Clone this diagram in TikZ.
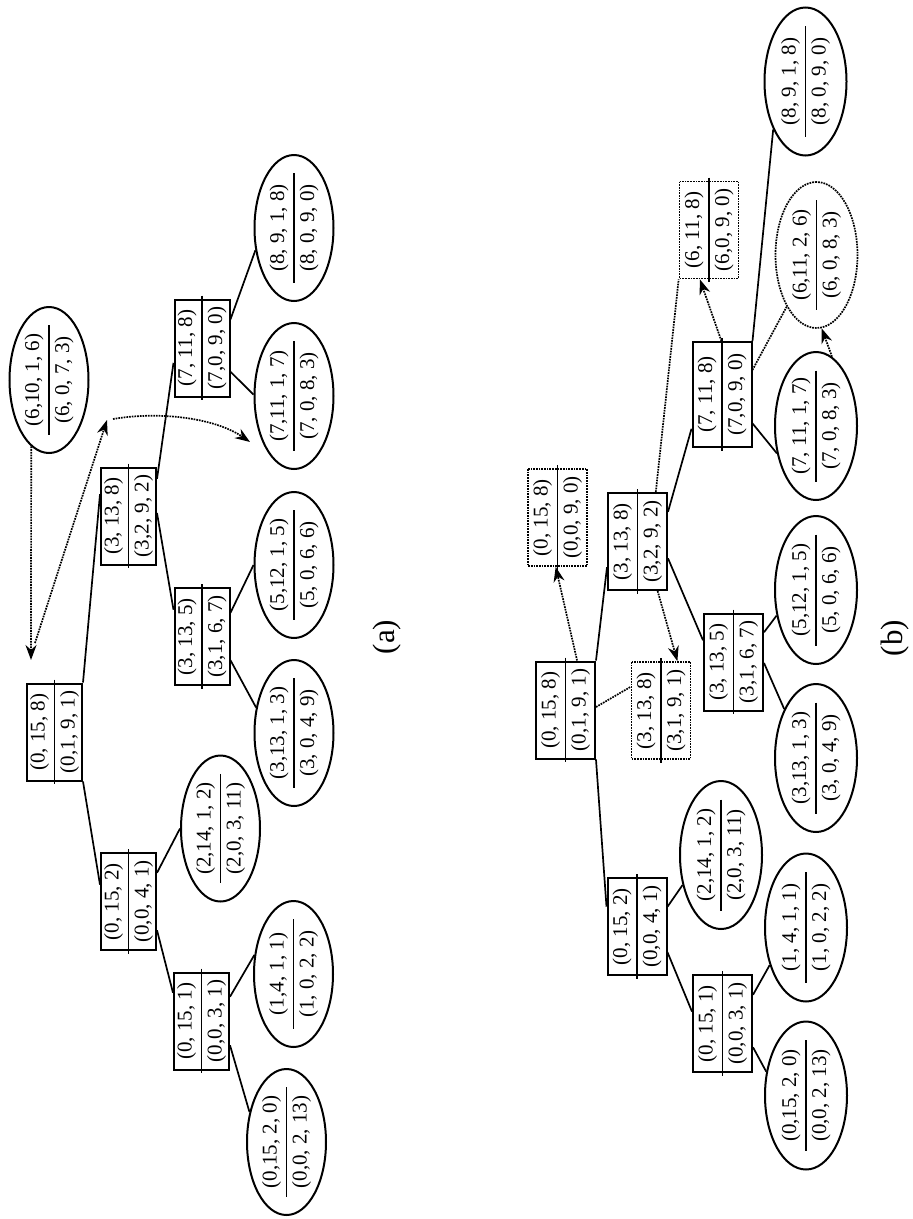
\documentclass[tikz,border=0pt]{standalone}
\usepackage{fontspec}
\setmainfont{Liberation Serif}
\usetikzlibrary{calc,arrows.meta,shapes.geometric}
\newcommand{\mydivider}[1]{\draw[divline] ($(#1.east)!-0.03!(#1.west)$) -- ($(#1.west)!-0.03!(#1.east)$);}
\newcommand{\myfracline}[1]{\draw[divline] ($(#1.east)!0.13!(#1.west)$) -- ($(#1.west)!0.13!(#1.east)$);}
\begin{document}
\begin{tikzpicture}[x=1pt,y=-1pt,
  every node/.style={rotate=90, font=\fontsize{21}{30}\selectfont, align=center, inner sep=0pt},
  boxA/.style={draw, line width=2pt, minimum width=97pt, minimum height=55pt},
  boxB/.style={draw, line width=2pt, minimum width=97pt, minimum height=59pt},
  dbox/.style={draw, line width=1.7pt, densely dotted, minimum width=97pt, minimum height=59pt},
  ellA/.style={ellipse, draw, line width=2pt, minimum width=146pt, minimum height=79pt},
  ellB/.style={ellipse, draw, line width=2pt, minimum width=148pt, minimum height=82pt},
  dell/.style={ellipse, draw, densely dotted, line width=1.7pt, minimum width=146pt, minimum height=82pt},
  divline/.style={line width=1.8pt},
  treeline/.style={line width=1.7pt},
  dline/.style={densely dotted, line width=1.7pt},
  darrow/.style={dline, -{Stealth[length=15pt,width=11pt]}},
  lab/.style={font=\fontsize{31}{33}\selectfont}
]
\fill[white] (0,0) rectangle (913,1219);
\useasboundingbox (0,0) rectangle (913,1219);

% ---------- panel (a) ----------
\node[boxA] (ra)     at (54.5,732)  {(0, 15, 8)\\(0,1, 9, 1)};
\node[boxA] (c152a)  at (128.5,901.5) {(0, 15, 2)\\(0,0, 4, 1)};
\node[boxA] (c151a)  at (201.5,1021) {(0, 15, 1)\\(0,0, 3, 1)};
\node[boxA] (c138a)  at (128.5,516) {(3, 13, 8)\\(3,2, 9, 2)};
\node[boxA] (c135a)  at (202,636.5) {(3, 13, 5)\\(3,1, 6, 7)};
\node[boxA] (c7118a) at (202,348)   {(7, 11, 8)\\(7,0, 9, 0)};
\foreach \n in {ra,c152a,c151a,c138a,c135a,c7118a} {\mydivider{\n}}

\node[ellA] (e0a) at (286.5,1142) {(0,15, 2, 0)\\(0,0, 2, 13)};
\node[ellA] (e1a) at (293.5,974)  {(1,4, 1, 1)\\(1, 0, 2, 2)};
\node[ellA] (e2a) at (220.5,828.5) {(2,14, 1, 2)\\(2,0, 3, 11)};
\node[ellA] (e3a) at (294,733)    {(3,13, 1, 3)\\(3, 0, 4, 9)};
\node[ellA] (e5a) at (294,565)    {(5,12, 1, 5)\\(5, 0, 6, 6)};
\node[ellA] (e7a) at (294,396)    {(7,11, 1, 7)\\(7, 0, 8, 3)};
\node[ellA] (e8a) at (294,228)    {(8, 9, 1, 8)\\(8, 0, 9, 0)};
\node[ellA] (e6a) at (49,380)     {(6,10, 1, 6)\\(6, 0, 7, 3)};
\foreach \n in {e0a,e1a,e2a,e3a,e5a,e7a,e8a,e6a} {\myfracline{\n}}

\draw[treeline] (ra.south east) -- ($(c138a.north east)!0.28!(c138a.north west)$);
\draw[treeline] (ra.south west) -- ($(c152a.north east)!0.33!(c152a.north west)$);
\draw[treeline] ($(c138a.south east)!0.125!(c138a.south west)$) -- ($(c7118a.north east)!0.65!(c7118a.north west)$);
\draw[treeline] ($(c138a.south east)!0.47!(c138a.south west)$) -- ($(c135a.north east)!0.23!(c135a.north west)$);
\draw[treeline] ($(c135a.south east)!0.26!(c135a.south west)$) -- (e5a.90);
\draw[treeline] ($(c135a.south east)!0.74!(c135a.south west)$) -- (e3a.56);
\draw[treeline] ($(c7118a.south east)!0.21!(c7118a.south west)$) -- (e8a.120);
\draw[treeline] ($(c7118a.south east)!0.74!(c7118a.south west)$) -- (e7a.88);
\draw[treeline] ($(c152a.south east)!0.21!(c152a.south west)$) -- (e2a.90);
\draw[treeline] ($(c152a.south east)!0.79!(c152a.south west)$) -- ($(c151a.north east)!0.215!(c151a.north west)$);
\draw[treeline] ($(c151a.south east)!0.255!(c151a.south west)$) -- (e1a.64);
\draw[treeline] ($(c151a.south east)!0.745!(c151a.south west)$) -- (e0a.51);

\coordinate (pa1) at (31,660);
\coordinate (pa2) at (35,643);
\coordinate (pa3) at (107,420);
\coordinate (pa4) at (113,419);
\coordinate (pa5) at (250,442);
\draw[darrow] (e6a.165) -- (pa1);
\draw[darrow] (pa2) -- (pa3);
\draw[darrow] (pa4) .. controls (160,411) and (215,418) .. (pa5);

\node[lab] (laba) at (387,637) {(a)};

% ---------- panel (b) ----------
\node[boxB] (rb)     at (565.5,710)  {(0, 15, 8)\\(0,1, 9, 1)};
\node[boxB] (c138b)  at (637.5,541.5) {(3, 13, 8)\\(3,2, 9, 2)};
\node[boxB] (c135b)  at (733.5,662)  {(3, 13, 5)\\(3,1, 6, 7)};
\node[boxB, minimum width=105pt] (c7118b) at (722,394.5) {(7, 11, 8)\\(7,0, 9, 0)};
\node[boxB] (c152b)  at (637,926.5)  {(0, 15, 2)\\(0,0, 4, 1)};
\node[boxB] (c151b)  at (722.5,1023.5) {(0, 15, 1)\\(0,0, 3, 1)};
\node[dbox] (db1)    at (557.5,517.5) {(0, 15, 8)\\(0,0, 9, 0)};
\node[dbox] (db2)    at (661,710.5)  {(3, 13, 8)\\(3,1, 9, 1)};
\node[dbox] (db3)    at (709,230)    {(6, 11, 8)\\(6,0, 9, 0)};
\foreach \n in {rb,c138b,c135b,c7118b,c152b,c151b,db1,db2,db3} {\mydivider{\n}}

\node[ellB] (e8b) at (805.5,81.5) {(8, 9, 1, 8)\\(8, 0, 9, 0)};
\node[dell] (de)  at (816.5,255)  {(6,11, 2, 6)\\(6, 0, 8, 3)};
\node[ellB] (e7b) at (816,426)    {(7, 11, 1, 7)\\(7, 0, 8, 3)};
\node[ellB] (e5b) at (816,590)    {(5,12, 1, 5)\\(5, 0, 6, 6)};
\node[ellB] (e3b) at (816,758)    {(3,13, 1, 3)\\(3, 0, 4, 9)};
\node[ellB] (e2b) at (721,855)    {(2,14, 1, 2)\\(2,0, 3, 11)};
\node[ellB] (e1b) at (806,927.5)  {(1, 4, 1, 1)\\(1, 0, 2, 2)};
\node[ellB] (e0b) at (806,1095.5) {(0,15, 2, 0)\\(0,0, 2, 13)};
\foreach \n in {e8b,de,e7b,e5b,e3b,e2b,e1b,e0b} {\myfracline{\n}}

\draw[treeline] (rb.south east) -- ($(c138b.north east)!0.76!(c138b.north west)$);
\draw[treeline] (rb.south west) -- ($(c152b.north east)!0.30!(c152b.north west)$);
\draw[treeline] ($(c138b.south east)!0.2!(c138b.south west)$) -- ($(c7118b.north east)!0.82!(c7118b.north west)$);
\draw[treeline] ($(c138b.south east)!0.67!(c138b.south west)$) -- ($(c135b.north east)!0.28!(c135b.north west)$);
\draw[treeline] (c7118b.south east) -- (e8b.146);
\draw[treeline] ($(c7118b.south east)!0.77!(c7118b.south west)$) -- (e7b.125);
\draw[treeline] ($(c135b.south east)!0.2!(c135b.south west)$) -- (e5b.123);
\draw[treeline] ($(c135b.south east)!0.51!(c135b.south west)$) -- (e3b.33);
\draw[treeline] ($(c152b.south east)!0.30!(c152b.south west)$) -- (e2b.128);
\draw[treeline] ($(c152b.south east)!0.76!(c152b.south west)$) -- ($(c151b.north east)!0.38!(c151b.north west)$);
\draw[treeline] ($(c151b.south east)!0.21!(c151b.south west)$) -- (e1b.136);
\draw[treeline] ($(c151b.south east)!0.74!(c151b.south west)$) -- (e0b.59);

\draw[darrow] ($(rb.north east)!0.69!(rb.south east)$) -- ($(db1.north west)!0.47!(db1.south west)$);
\draw[dline] ($(rb.south east)!0.47!(rb.south west)$) -- ($(db2.north east)!0.26!(db2.north west)$);
\draw[darrow] ($(c138b.north west)!0.83!(c138b.south west)$) -- ($(db2.north east)!0.77!(db2.south east)$);
\draw[dline] ($(c138b.north east)!0.8!(c138b.south east)$) -- (db3.north west);
\draw[darrow] ($(c7118b.north east)!0.49!(c7118b.south east)$) -- ($(db3.north west)!0.35!(db3.south west)$);
\draw[dline] ($(c7118b.south east)!0.27!(c7118b.south west)$) -- (de.150);
\draw[darrow] (e7b.-13) -- (de.184);

\node[lab] (labb) at (895,638) {(b)};
\end{tikzpicture}
\end{document}
